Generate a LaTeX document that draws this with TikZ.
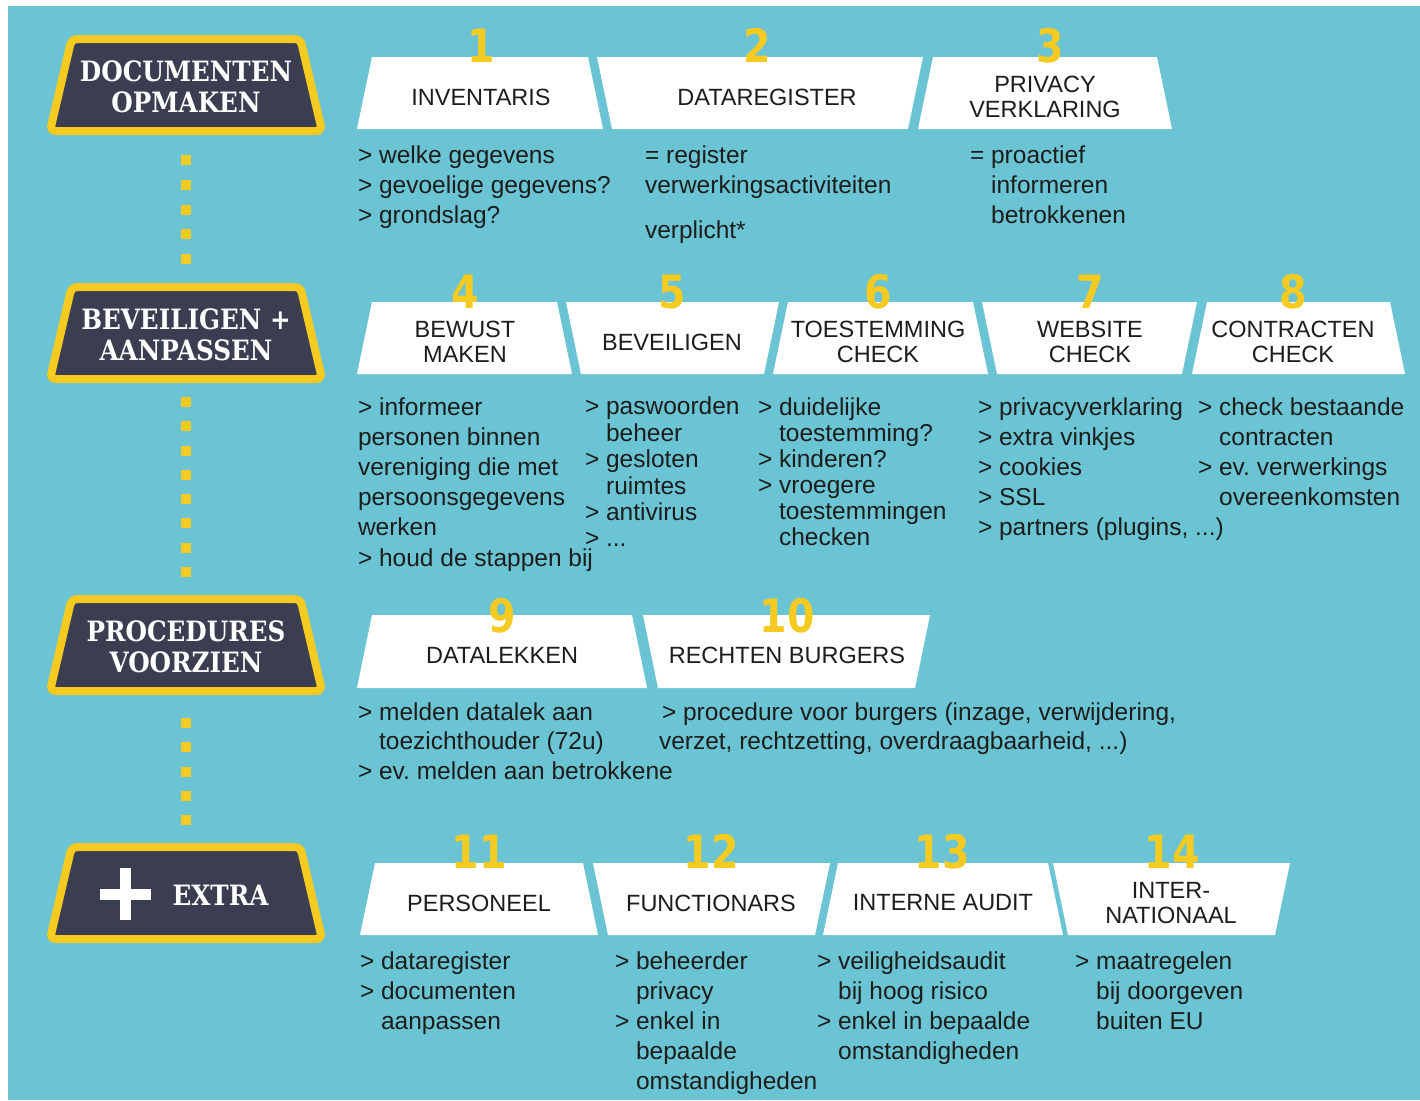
\documentclass[tikz,border=0pt]{standalone}
\usepackage{fontspec}
\setmainfont{Liberation Sans}
\newfontfamily\slabfont[FakeStretch=0.88]{DejaVu Serif}
\newfontfamily\numfont[FakeStretch=0.86]{DejaVu Sans}
\definecolor{bgblue}{HTML}{6BC4D4}
\definecolor{gold}{HTML}{F5CB22}
\definecolor{navy}{HTML}{3A3E50}
\definecolor{ink}{HTML}{1D1D1B}
\frenchspacing
\tikzset{
  tabfill/.style={fill=white},
  head/.style={inner sep=0pt, outer sep=0pt, align=center, text=ink,
    font=\fontsize{23.5}{25}\selectfont},
  body/.style={anchor=north west, inner sep=0pt, outer sep=0pt, align=left, text=ink,
    font=\fontsize{24.5}{#1}\selectfont},
  body/.default=30,
  num/.style={anchor=base, inner sep=0pt, text=gold,
    font=\numfont\bfseries\fontsize{46}{46}\selectfont},
  badgebox/.style={draw=gold, fill=navy, line width=8pt, rounded corners=5pt, line join=round},
  badgetxt/.style={inner sep=0pt, outer sep=0pt, align=center, text=white,
    font=\slabfont\bfseries\fontsize{28}{31}\selectfont},
  dotline/.style={draw=gold, line width=10pt, line cap=butt}
}
% tab wide at bottom: name, bottom-left x, bottom-right x, top y, bottom y, text x, text
\newcommand\tabWideBottom[7]{%
  \fill[tabfill] ({#2+15},#4) -- ({#3-15},#4) -- (#3,#5) -- (#2,#5) -- cycle;
  \node[head] (#1) at (#6,{(#4+#5)/2+4}) {#7};}
% tab wide at top: name, top-left x, top-right x, top y, bottom y, text x, text
\newcommand\tabWideTop[7]{%
  \fill[tabfill] (#2,#4) -- (#3,#4) -- ({#3-15},#5) -- ({#2+15},#5) -- cycle;
  \node[head] (#1) at (#6,{(#4+#5)/2+4}) {#7};}
% badge: name, centre y, text
\newcommand\badge[3]{%
  \draw[badgebox] (71.6,{#2-46}) -- (300.4,{#2-46}) -- (322,{#2+46}) -- (50,{#2+46}) -- cycle;
  \node[badgetxt] (#1) at (186,{#2+2}) {#3};
  \coordinate (#1-n) at (186,{#2-50});
  \coordinate (#1-s) at (186,{#2+50});}
\begin{document}
\begin{tikzpicture}[x=1pt,y=-1pt]
\useasboundingbox (0,0) rectangle (1420,1100);
\fill[white] (0,0) rectangle (1420,1100);
\fill[bgblue] (8,6) rectangle (1420,1100);

% ---- badges ----
\badge{b1}{85}{DOCUMENTEN\\OPMAKEN}
\badge{b2}{333}{BEVEILIGEN +\\AANPASSEN}
\badge{b3}{645}{PROCEDURES\\VOORZIEN}
\badge{b4}{893}{\phantom{X}}
\fill[white] (100,888.5) rectangle (151,899.5);
\fill[white] (119.5,868) rectangle (130.5,920);
\node[badgetxt, anchor=base] (b4t) at (220.5,905) {EXTRA};

% ---- dotted connectors ----
\draw[dotline, dash pattern=on 10pt off 14.75pt, shorten <=20pt, shorten >=19pt] (b1-s) -- (b2-n);
\draw[dotline, dash pattern=on 10pt off 14.29pt, shorten <=14pt, shorten >=18pt] (b2-s) -- (b3-n);
\draw[dotline, dash pattern=on 10pt off 14.25pt, shorten <=23pt, shorten >=18pt] (b3-s) -- (b4-n);

% ---- row 1 ----
\tabWideBottom{h1}{357}{603}{57}{129}{481}{INVENTARIS}
\tabWideTop{h2}{597}{923}{57}{129}{767}{DATAREGISTER}
\tabWideBottom{h3}{918}{1172}{57}{129}{1045}{PRIVACY\\VERKLARING}
\node[num] (n1) at (481,62) {1};
\node[num] (n2) at (757,62) {2};
\node[num] (n3) at (1050,62) {3};
\node[body] (d1) at (358,142) {\strut> welke gegevens\\> gevoelige gegevens?\\> grondslag?};
\node[body] (d2) at (645,142) {\strut= register\\verwerkingsactiviteiten\\[15pt]verplicht*};
\node[body] (d3) at (970,142) {\strut= proactief\\\phantom{= }informeren\\\phantom{= }betrokkenen};

% ---- row 2 ----
\tabWideBottom{h4}{357}{572}{302}{374}{465}{BEWUST\\MAKEN}
\tabWideTop{h5}{566}{779}{302}{374}{672}{BEVEILIGEN}
\tabWideBottom{h6}{773}{988}{302}{374}{878}{TOESTEMMING\\CHECK}
\tabWideTop{h7}{982}{1197}{302}{374}{1090}{WEBSITE\\CHECK}
\tabWideBottom{h8}{1192}{1405}{302}{374}{1293}{CONTRACTEN\\CHECK}
\node[num] (n4) at (465,308) {4};
\node[num] (n5) at (672,308) {5};
\node[num] (n6) at (878,308) {6};
\node[num] (n7) at (1090,308) {7};
\node[num] (n8) at (1293,308) {8};
\node[body=30.2] (d4) at (358,393.9) {\strut> informeer\\personen binnen\\vereniging die met\\persoonsgegevens\\werken\\> houd de stappen bij};
\node[body=26.4] (d5) at (585,396.5) {\strut> paswoorden\\\phantom{> }beheer\\> gesloten\\\phantom{> }ruimtes\\> antivirus\\> ...};
\node[body=26] (d6) at (758,396.8) {\strut> duidelijke\\\phantom{> }toestemming?\\> kinderen?\\> vroegere\\\phantom{> }toestemmingen\\\phantom{> }checken};
\node[body=30.2] (d7) at (978,393.9) {\strut> privacyverklaring\\> extra vinkjes\\> cookies\\> SSL\\> partners (plugins, ...)};
\node[body=30.2] (d8) at (1198,393.9) {\strut> check bestaande\\\phantom{> }contracten\\> ev. verwerkings\\\phantom{> }overeenkomsten};

% ---- row 3 ----
\tabWideBottom{h9}{357}{647}{615}{688}{502}{DATALEKKEN}
\tabWideTop{h10}{643}{930}{615}{688}{787}{RECHTEN BURGERS}
\node[num] (n9) at (502,632) {9};
\node[num] (n10) at (787,632) {10};
\node[body=29.5] (d9) at (358,699.4) {\strut> melden datalek aan\\\phantom{> }toezichthouder (72u)\\> ev. melden aan betrokkene};
\node[body=29.5] (d10) at (659,699.4) {\strut\hspace*{3pt}> procedure voor burgers (inzage, verwijdering,\\verzet, rechtzetting, overdraagbaarheid, ...)};

% ---- row 4 ----
\tabWideBottom{h11}{360}{598}{863}{935}{479}{PERSONEEL}
\tabWideTop{h12}{593}{830}{863}{935}{711}{FUNCTIONARS}
\tabWideBottom{h13}{823}{1063}{863}{935}{943}{INTERNE AUDIT}
\tabWideTop{h14}{1053}{1290}{863}{935}{1171}{INTER-\\NATIONAAL}
\node[num] (n11) at (479,868) {11};
\node[num] (n12) at (711,868) {12};
\node[num] (n13) at (942,868) {13};
\node[num] (n14) at (1172,868) {14};
\node[body=30.2] (d11) at (360,947.9) {\strut> dataregister\\> documenten\\\phantom{> }aanpassen};
\node[body=30.2] (d12) at (615,947.9) {\strut> beheerder\\\phantom{> }privacy\\> enkel in\\\phantom{> }bepaalde\\\phantom{> }omstandigheden};
\node[body=30.2] (d13) at (817,947.9) {\strut> veiligheidsaudit\\\phantom{> }bij hoog risico\\> enkel in bepaalde\\\phantom{> }omstandigheden};
\node[body=30.2] (d14) at (1075,947.9) {\strut> maatregelen\\\phantom{> }bij doorgeven\\\phantom{> }buiten EU};
\end{tikzpicture}
\end{document}
